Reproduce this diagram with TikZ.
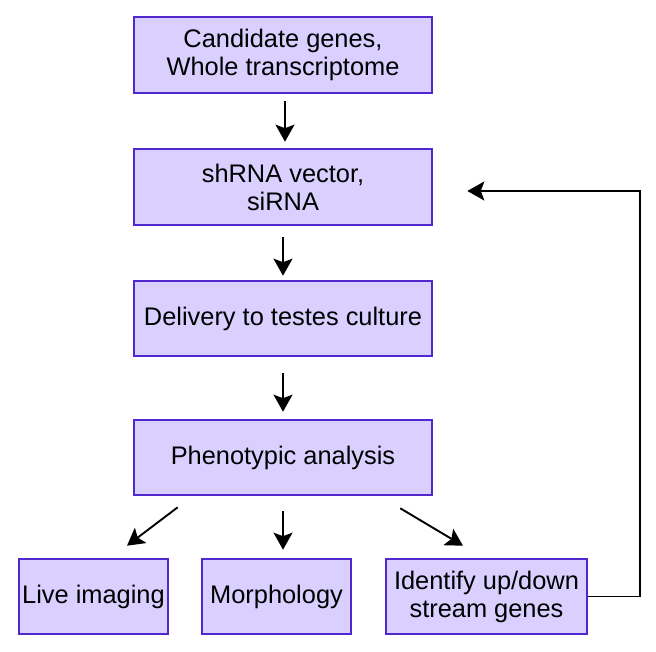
\documentclass[tikz,border=0pt]{standalone}
\usepackage{fontspec}
\setmainfont{Liberation Sans}
\usetikzlibrary{arrows.meta,calc}
\definecolor{boxfill}{RGB}{218,208,255}
\definecolor{boxline}{RGB}{80,40,205}
\tikzset{
  stepbox/.style={draw=boxline, fill=boxfill, line width=2.6pt, minimum height=75pt,
    inner sep=0pt, align=center, font=\fontsize{25.4}{28}\selectfont},
  arr/.style={line width=1.9pt, -{Stealth[length=17pt,width=19pt,inset=3.5pt]}}
}
\begin{document}
\begin{tikzpicture}[x=1pt,y=-1pt]
\useasboundingbox (0,0) rectangle (656,652);
\node[stepbox, minimum width=298pt, minimum height=76pt] (b1) at (283,55) {Candidate genes,\\Whole transcriptome};
\node[stepbox, minimum width=298pt, minimum height=76pt] (b2) at (283,187) {shRNA vector,\\siRNA};
\node[stepbox, minimum width=298pt] (b3) at (283,318.5) {Delivery to testes culture};
\node[stepbox, minimum width=298pt] (b4) at (283,457.5) {Phenotypic analysis};
\node[stepbox, minimum width=149pt] (l) at (93.5,596.5) {Live imaging};
\node[stepbox, minimum width=149pt] (m) at (276.5,596.5) {Morphology};
\node[stepbox, minimum width=201pt] (r) at (486.5,596.5) {Identify up/down\\stream genes};

\draw[arr] ($(b1.south)+(2,7)$) -- ($(b2.north)+(2,-6)$);
\draw[arr] ($(b2.south)+(0,11)$) -- ($(b3.north)+(0,-4)$);
\draw[arr] ($(b3.south)+(0,16)$) -- ($(b4.north)+(0,-7)$);
\draw[arr] ($(b4.south west)+(45,11)$) -- ($(l.north)+(33.5,-12)$);
\draw[arr] ($(b4.south)+(0,15)$) -- ($(m.north)+(6.5,-8)$);
\draw[arr] ($(b4.south east)+(-33,12)$) -- ($(r.north)+(-23.5,-12)$);
\draw[arr] (r.east) -- ++(52,0) |- ($(b2.east)+(34,4)$);
\end{tikzpicture}
\end{document}
